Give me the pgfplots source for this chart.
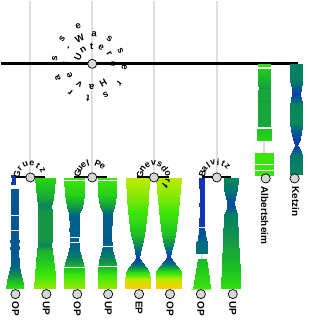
\documentclass[border=0pt]{standalone}
\usepackage{fontspec}
\setmainfont{Liberation Sans}
\usepackage{pgfplots}
\pgfplotsset{compat=1.18}
\definecolor{gline}{RGB}{222,222,222}
\definecolor{nodefill}{RGB}{215,215,215}
\definecolor{lgreen}{RGB}{150,240,90}
\tikzset{spl/.style={font=\bfseries\fontsize{8.5}{8.5}\selectfont, inner sep=0pt}}
\newcommand\spiraltext[7]{%
  \foreach \ch [count=\i from 0] in {#6} {%
    \pgfmathsetmacro\ang{#2-#3*\i}%
    \pgfmathsetmacro\rad{#4+#5*\i}%
    \node[spl, font=\bfseries\fontsize{#7}{#7}\selectfont, rotate=\ang-90] at ([shift={(\ang:\rad pt)}]#1) {\ch};%
  }}
\begin{document}
\begin{tikzpicture}
\begin{axis}[
  x=1pt, y=1pt, xmin=0, xmax=308, ymin=0, ymax=322, y dir=reverse,
  hide axis, clip=false, scale only axis,
  colormap={rv}{rgb255(0cm)=(20,50,185) rgb255(1cm)=(10,78,155) rgb255(2cm)=(0,95,140) rgb255(3.5cm)=(0,120,110) rgb255(5cm)=(20,150,70) rgb255(6.5cm)=(30,200,30) rgb255(7.5cm)=(60,230,10) rgb255(8.5cm)=(180,235,0) rgb255(10cm)=(255,205,0)},
  point meta min=0, point meta max=1,
  every axis plot/.append style={forget plot},
  strip/.style={surf, shader=interp, mesh/cols=2, point meta=explicit},
]
\addplot[draw=none] coordinates {(0,0) (308,322)};
% gray guide lines
\addplot[gline, line width=2pt] coordinates {(29,0) (29,177)};
\addplot[gline, line width=2pt] coordinates {(91,0) (91,177)};
\addplot[gline, line width=2pt] coordinates {(153,0) (153,177)};
\addplot[gline, line width=2pt] coordinates {(216,0) (216,177)};
\addplot[gline, line width=2pt] coordinates {(263.5,138) (263.5,154)};
\addplot[gline, line width=2pt] coordinates {(201,224) (201,260)};
% main black line
\addplot[black, line width=3pt] coordinates {(0,63) (297,63)};
% group black lines
\addplot[black, line width=2pt] coordinates {(12,177) (44,177)};
\addplot[black, line width=2pt] coordinates {(73,177) (106,177)};
\addplot[black, line width=2pt] coordinates {(136,177) (168,177)};
\addplot[black, line width=2pt] coordinates {(201,177) (230,177)};
% strip 1 marker
\addplot[strip] table[meta=c] {
x y c
9.5 175 0.03
14.5 175 0.03
9.5 177 0.03
14.5 177 0.03
10.8 177 0.03
13.2 177 0.03
10.8 182 0.03
13.2 182 0.03
9.5 182 0.03
14.5 182 0.03
9.5 184 0.03
14.5 184 0.03
};
% strip 1
\addplot[strip] table[meta=c] {
x y c
10 189 0.14
17 189 0.14
10 238 0.15
17 238 0.15
9 241 0.17
18 241 0.17
10 244 0.15
17 244 0.15
9 248 0.17
18 248 0.17
10 251 0.15
17 251 0.15
9.7 265 0.22
17.3 265 0.22
8 272 0.4
19 272 0.4
6 280 0.6
21 280 0.6
4.5 288 0.72
22.5 288 0.72
};
% strip 2
\addplot[strip] table[meta=c] {
x y c
33.5 178 0.7
53.5 178 0.7
35.5 198 0.55
51.5 198 0.55
37 206 0.42
50 206 0.42
36.5 211 0.5
50.5 211 0.5
36.5 240 0.5
50.5 240 0.5
37 245 0.42
50 245 0.42
36 250 0.58
51 250 0.58
33.5 275 0.75
53.5 275 0.75
32.5 288 0.82
54.5 288 0.82
};
% strip 3
\addplot[strip] table[meta=c] {
x y c
63 178 0.75
83 178 0.75
63.5 195 0.68
82.5 195 0.68
65.5 207 0.5
80.5 207 0.5
68 213 0.32
78 213 0.32
68 216 0.2
78 216 0.2
68.5 226 0.2
77.5 226 0.2
68 229 0.22
78 229 0.22
68.5 234 0.2
77.5 234 0.2
69 240 0.17
77 240 0.17
68.5 244 0.22
77.5 244 0.22
68 250 0.28
78 250 0.28
65 260 0.45
81 260 0.45
63 267 0.62
83 267 0.62
63 275 0.75
83 275 0.75
63 288 0.82
83 288 0.82
};
% strip 4
\addplot[strip] table[meta=c] {
x y c
96.5 178 0.75
115.5 178 0.75
97 195 0.68
115 195 0.68
99 207 0.5
113 207 0.5
101.5 213 0.3
110.5 213 0.3
101.5 216 0.2
110.5 216 0.2
102 234 0.2
110 234 0.2
102 240 0.17
110 240 0.17
101.5 244 0.22
110.5 244 0.22
101 250 0.28
111 250 0.28
98 260 0.45
114 260 0.45
96.5 268 0.62
115.5 268 0.62
96.5 275 0.75
115.5 275 0.75
96.5 288 0.82
115.5 288 0.82
};
% strip 5
\addplot[strip] table[meta=c] {
x y c
125 178 0.86
148 178 0.86
126.3 200 0.8
146.7 200 0.8
128.2 220 0.72
144.8 220 0.72
130.3 235 0.62
142.7 235 0.62
132.5 245 0.45
140.5 245 0.45
134 252 0.2
139 252 0.2
135.3 258 0.03
137.7 258 0.03
132 262 0.15
141 262 0.15
128 267 0.45
145 267 0.45
125 272 0.7
148 272 0.7
124 280 0.88
149 280 0.88
124 288 1.0
149 288 1.0
};
% strip 6
\addplot[strip] table[meta=c] {
x y c
155 178 0.86
180 178 0.86
156.5 200 0.8
178.5 200 0.8
158.5 220 0.72
176.5 220 0.72
160.8 235 0.62
174.2 235 0.62
163.2 245 0.45
171.8 245 0.45
165 251 0.2
170 251 0.2
166.3 257 0.03
168.7 257 0.03
163 261 0.15
172 261 0.15
158.5 266 0.45
176.5 266 0.45
155 271 0.7
180 271 0.7
154.5 280 0.88
180.5 280 0.88
154.5 288 1.0
180.5 288 1.0
};
% strip 7
\addplot[strip] table[meta=c] {
x y c
198.5 178 0.0
203.5 178 0.0
199 200 0.0
203 200 0.0
198 205 0.02
204 205 0.02
199 208 0.0
203 208 0.0
198.5 226 0.03
203.5 226 0.03
};
\addplot[strip] table[meta=c] {
x y c
198.5 228 0.08
203.5 228 0.08
197 240 0.2
205 240 0.2
195.5 242 0.28
206.5 242 0.28
195 253 0.3
207 253 0.3
};
\addplot[strip] table[meta=c] {
x y c
197 259 0.6
205 259 0.6
195 270 0.66
207 270 0.66
192.5 288 0.74
209.5 288 0.74
};
% strip 8
\addplot[strip] table[meta=c] {
x y c
223 178 0.42
237 178 0.42
223.5 190 0.35
236.5 190 0.35
225.5 197 0.2
234.5 197 0.2
226.5 203 0.1
233.5 203 0.1
226 208 0.15
234 208 0.15
223.5 214 0.38
236.5 214 0.38
222.5 240 0.5
237.5 240 0.5
220 288 0.72
240 288 0.72
};
% Albertsheim
\addplot[strip] table[meta=c] {
x y c
256.8 63 0.72
270.2 63 0.72
256.8 66 0.72
270.2 66 0.72
};
\addplot[strip] table[meta=c] {
x y c
257 68 0.66
270 68 0.66
257 80 0.58
270 80 0.58
257 85 0.55
270 85 0.55
258 87 0.5
269 87 0.5
257 89 0.55
270 89 0.55
257 98 0.55
270 98 0.55
257.5 100 0.52
269.5 100 0.52
257 102 0.55
270 102 0.55
257 126 0.55
270 126 0.55
};
\addplot[strip] table[meta=c] {
x y c
256.5 128 0.64
270.5 128 0.64
256.5 140 0.7
270.5 140 0.7
};
\addplot[strip] table[meta=c] {
x y c
254.5 152 0.74
272.5 152 0.74
254.5 175 0.74
272.5 175 0.74
};
% Ketzin
\addplot[strip] table[meta=c] {
x y c
289.3 63 0.4
301.7 63 0.4
289.3 80 0.38
301.7 80 0.38
291 88 0.15
300 88 0.15
291.7 93 0.02
299.3 93 0.02
290.5 98 0.2
300.5 98 0.2
289 104 0.42
302 104 0.42
289 122 0.42
302 122 0.42
290.5 130 0.2
300.5 130 0.2
292 138 0.05
299 138 0.05
294.3 144 0.0
296.7 144 0.0
292 148 0.1
299 148 0.1
289.3 154 0.35
301.7 154 0.35
289.3 174 0.42
301.7 174 0.42
};
% white gaps
\addplot[white, line width=0.8pt] coordinates {(62,180) (84,180)};
\addplot[white, line width=0.8pt] coordinates {(62,237) (84,237)};
\addplot[white, line width=0.8pt] coordinates {(62,242) (84,242)};
\addplot[white, line width=0.8pt] coordinates {(62,267.5) (84,267.5)};
\addplot[white, line width=0.8pt] coordinates {(96,180) (116,180)};
\addplot[white, line width=0.8pt] coordinates {(96,246) (116,246)};
\addplot[white, line width=0.8pt] coordinates {(96,266) (116,266)};
\addplot[white, line width=0.8pt] coordinates {(8,215) (19,215)};
\addplot[white, line width=0.8pt] coordinates {(8,230) (19,230)};
\addplot[white, line width=0.8pt] coordinates {(255,67) (272,67)};
\addplot[white, line width=0.8pt] coordinates {(255,127) (272,127)};
\addplot[white, line width=0.8pt] coordinates {(253,164) (274,164)};
\addplot[white, line width=0.8pt] coordinates {(253,170) (274,170)};
\addplot[lgreen, line width=1pt] coordinates {(190.5,289.5) (211.5,289.5)};
% nodes
\addplot[only marks, mark=*, mark size=4.6pt, mark options={fill=nodefill, draw=black, line width=0.7pt}] coordinates {
(91,63) (29,177) (91,177) (153,177) (216,177)
(14,294) (45,294) (76,294) (107,294) (138,294) (169,294) (200,294) (232,294)
(265,178) (294,178)};
\coordinate (root) at (axis cs:91,63);
\coordinate (g1) at (axis cs:29,177);
\coordinate (g2) at (axis cs:91,177);
\coordinate (g3) at (axis cs:153,177);
\coordinate (g4) at (axis cs:216,177);
% leaf labels
\tikzset{lab/.style={font=\bfseries\fontsize{10}{10}\selectfont, rotate=-90, anchor=west, inner sep=0pt}}
\node[lab] at (axis cs:14,301) {OP};
\node[lab] at (axis cs:45,301) {UP};
\node[lab] at (axis cs:76,301) {OP};
\node[lab] at (axis cs:107,301) {UP};
\node[lab] at (axis cs:138,301) {EP};
\node[lab] at (axis cs:169,301) {OP};
\node[lab] at (axis cs:200,301) {OP};
\node[lab] at (axis cs:232,301) {UP};
\node[lab] at (axis cs:264,186) {Albertsheim};
\node[lab] at (axis cs:295,186) {Ketzin};
\end{axis}
\spiraltext{root}{153}{30.5}{16}{0.96}{U,n,t,e,r,e,{ },H,a,v,e,l,-,W,a,s,s,e,r,s,t,r,a,s,s,e}{9.5}
\spiraltext{g1}{165}{27}{14}{0}{G,r,u,e,t,z}{9}
\spiraltext{g2}{165}{19.5}{15}{0}{G,u,e,l,{ },P,e}{9}
\spiraltext{g3}{170}{26}{14}{0}{G,n,e,v,s,d,o,r,f}{9}
\spiraltext{g4}{165}{20}{15}{0}{B,a,l,v,i,t,z}{9}
\end{tikzpicture}
\end{document}
